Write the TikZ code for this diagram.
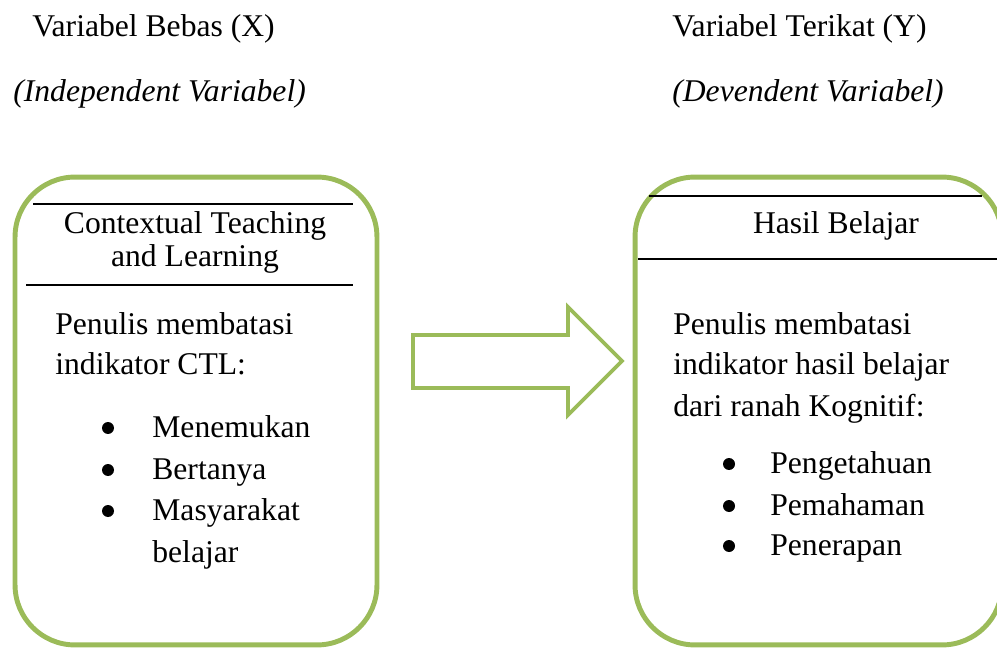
\documentclass[tikz,border=0pt]{standalone}
\usepackage{fontspec}
\setmainfont{Liberation Serif}
\usetikzlibrary{positioning}
\definecolor{boxgreen}{RGB}{155,187,89}

\begin{document}
\begin{tikzpicture}[
  x=0.02cm, y=-0.02cm,
  txt/.style={
        anchor=base west,
        inner sep=0,
        font=\fontsize{18}{23}\selectfont
  },
  ctxt/.style={
        anchor=base,
        inner sep=0,
        font=\fontsize{18}{23}\selectfont
  },
  panel/.style={
        draw=boxgreen,
        line width=2.8pt,
        rounded corners=1.2cm,
        rectangle
  },
  rule/.style={line width=1.1pt},
  dot/.style={circle, fill, inner sep=0, minimum size=0.24cm}
]

    \clip (0,0) rectangle (997,648);

    % headings
    \node[txt] (X) at (32,37) {Variabel Bebas (X)};
    \node[txt] (X_en) at (13,102) {\itshape (Independent Variabel)};
    \node[txt] (Y) at (672,37) {Variabel Terikat (Y)};
    \node[txt] (Y_en) at (672,102) {\itshape (Devendent Variabel)};

    % panels
    \node[panel, minimum width=7.24cm, minimum height=9.36cm] (CTL) at (196,411) {};
    \node[panel, minimum width=7.34cm, minimum height=9.36cm] (HB) at (818.5,411) {};

    \draw[rule] (33,204) -- (353,204);
    \draw[rule] (26,285) -- (353,285);
    \draw[rule] (649,196) -- (982,196);
    \draw[rule] (638,259) -- (997,259);

    \node[ctxt] (CTL_1) at (195,234) {Contextual Teaching};
    \node[ctxt] (CTL_2) at (195,267) {and Learning};
    \node[ctxt] (HB_1) at (836,234) {Hasil Belajar};

    % left panel body
    \node[txt] (L_1) at (55,335) {Penulis membatasi};
    \node[txt] (L_2) at (55,375) {indikator CTL:};
    \node[dot] (LD_1) at (108,428) {};
    \node[dot] (LD_2) at (108,470) {};
    \node[dot] (LD_3) at (108,511) {};
    \node[txt] (LB_1) at (152,437) {Menemukan};
    \node[txt] (LB_2) at (152,479) {Bertanya};
    \node[txt] (LB_3) at (152,520) {Masyarakat};
    \node[txt] (LB_4) at (152,562) {belajar};

    % right panel body
    \node[txt] (R_1) at (673,335) {Penulis membatasi};
    \node[txt] (R_2) at (673,375) {indikator hasil belajar};
    \node[txt] (R_3) at (673,417) {dari ranah Kognitif:};
    \node[dot] (RD_1) at (729,464) {};
    \node[dot] (RD_2) at (729,506) {};
    \node[dot] (RD_3) at (729,546) {};
    \node[txt] (RB_1) at (770,473) {Pengetahuan};
    \node[txt] (RB_2) at (770,515) {Pemahaman};
    \node[txt] (RB_3) at (770,555) {Penerapan};

    % block arrow
    \draw[boxgreen, line width=2.2pt] (413,335) -- (568,335) -- (568,307) -- (622,361)
        -- (568,415) -- (568,388) -- (413,388) -- cycle;
\end{tikzpicture}
\end{document}
